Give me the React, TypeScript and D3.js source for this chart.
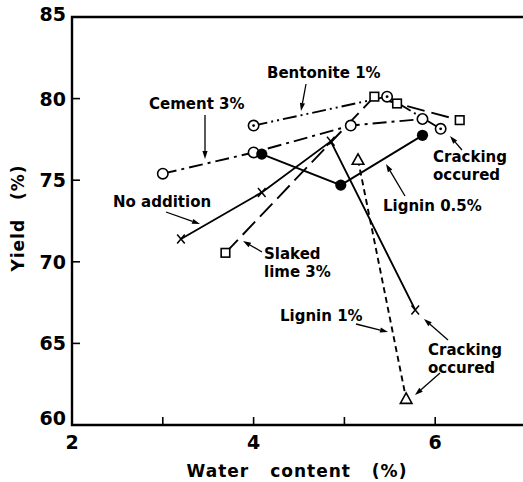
import * as d3 from "d3";

// Water content (%) / Yield (%) for each additive
const cementX = [3.0, 4.0, 5.07, 5.86];
const cementY = [75.4, 76.7, 78.35, 78.75];

const bentoniteX = [4.0, 5.47, 6.06];
const bentoniteY = [78.35, 80.12, 78.15];

const noAdditionX = [3.2, 4.09, 4.85, 5.78];
const noAdditionY = [71.4, 74.25, 77.38, 67.05];

const lignin05X = [4.09, 4.96, 5.86];
const lignin05Y = [76.6, 74.7, 77.75];

const lignin1X = [5.15, 5.68];
const lignin1Y = [76.25, 61.6];

const slakedLimeX = [3.69, 5.33, 5.58, 6.27];
const slakedLimeY = [70.55, 80.12, 79.7, 78.68];

const xTicks = [2, 3, 4, 5, 6];
const xTickLabels = ["2", "", "4", "", "6"];
const yTicks = [60, 65, 70, 75, 80, 85];

const W = 523;
const H = 482;
const FONT = "'DejaVu Sans', sans-serif";

const x = d3.scaleLinear().domain([2, 7]).range([72, 526]);
const y = d3.scaleLinear().domain([60, 85]).range([425, 17]);

const pts = (xs: number[], ys: number[]) => xs.map((v, i) => [v, ys[i]] as [number, number]);
const line = d3
  .line<[number, number]>()
  .x((d) => x(d[0]))
  .y((d) => y(d[1]));

type Shape = "circle" | "dot" | "filled" | "square" | "cross" | "triangle";

const Marker = ({ cx, cy, shape }: { cx: number; cy: number; shape: Shape }) => {
  const sw = 1.6;
  if (shape === "circle")
    return <circle cx={cx} cy={cy} r={5.2} fill="#fff" stroke="#000" strokeWidth={sw} />;
  if (shape === "dot")
    return (
      <g>
        <circle cx={cx} cy={cy} r={5.2} fill="#fff" stroke="#000" strokeWidth={sw} />
        <circle cx={cx} cy={cy} r={1.4} fill="#000" />
      </g>
    );
  if (shape === "filled") return <circle cx={cx} cy={cy} r={5.6} fill="#000" />;
  if (shape === "square")
    return <rect x={cx - 4.3} y={cy - 4.3} width={8.6} height={8.6} fill="#fff" stroke="#000" strokeWidth={sw} />;
  if (shape === "triangle")
    return (
      <path
        d={`M${cx},${cy - 6} L${cx + 5.8},${cy + 4.5} L${cx - 5.8},${cy + 4.5} Z`}
        fill="#fff"
        stroke="#000"
        strokeWidth={sw}
      />
    );
  return (
    <path
      d={`M${cx - 3.8},${cy - 4.5} L${cx + 3.8},${cy + 4.5} M${cx + 3.8},${cy - 4.5} L${cx - 3.8},${cy + 4.5}`}
      stroke="#000"
      strokeWidth={1.5}
      fill="none"
    />
  );
};

const series = [
  { xs: cementX, ys: cementY, shape: "circle" as Shape, dash: "14 5 3 5" },
  { xs: bentoniteX, ys: bentoniteY, shape: "dot" as Shape, dash: "14 4 2 4 2 4" },
  { xs: slakedLimeX, ys: slakedLimeY, shape: "square" as Shape, dash: "18 7" },
  { xs: lignin1X, ys: lignin1Y, shape: "triangle" as Shape, dash: "6 4" },
  { xs: noAdditionX, ys: noAdditionY, shape: "cross" as Shape, dash: "" },
  { xs: lignin05X, ys: lignin05Y, shape: "filled" as Shape, dash: "" },
];

// annotation texts with arrows [x1,y1,x2,y2] in pixels
const notes = [
  { lines: ["Bentonite 1%"], tx: 267, ty: 78, arrow: [306, 84, 301, 111] },
  { lines: ["Cement 3%"], tx: 149, ty: 109, arrow: [205, 115, 205, 159] },
  { lines: ["No addition"], tx: 113, ty: 207, arrow: [166, 212, 200, 224] },
  { lines: ["Slaked", "lime 3%"], tx: 264, ty: 259, arrow: [262, 252, 243, 241] },
  { lines: ["Cracking", "occured"], tx: 433, ty: 162, arrow: [462, 150, 450, 136] },
  { lines: ["Lignin 0.5%"], tx: 383, ty: 211, arrow: [405, 196, 386, 164] },
  { lines: ["Lignin 1%"], tx: 280, ty: 321, arrow: [356, 324, 388, 332] },
  { lines: ["Cracking", "occured"], tx: 428, ty: 355, arrow: [448, 340, 424, 319] },
  { lines: [], tx: 0, ty: 0, arrow: [440, 373, 415, 395] },
];

const Arrow = ({ a }: { a: number[] }) => {
  const [x1, y1, x2, y2] = a;
  const ang = Math.atan2(y2 - y1, x2 - x1);
  const L = 8;
  const w = 2.6;
  const bx = x2 - L * Math.cos(ang);
  const by = y2 - L * Math.sin(ang);
  const px = -Math.sin(ang) * w;
  const py = Math.cos(ang) * w;
  return (
    <g>
      <line x1={x1} y1={y1} x2={bx} y2={by} stroke="#000" strokeWidth={1.3} />
      <path d={`M${x2},${y2} L${bx + px},${by + py} L${bx - px},${by - py} Z`} fill="#000" />
    </g>
  );
};

export default function App() {
  return (
    <svg width={W} height={H} style={{ position: "absolute", left: 0, top: 0 }} fontFamily={FONT}>
      <rect width={W} height={H} fill="#fff" />
      {/* frame */}
      <path d={`M${W},${y(85)} L${x(2)},${y(85)} L${x(2)},${y(60)} L${W},${y(60)}`} fill="none" stroke="#000" strokeWidth={2.4} />
      {yTicks.slice(1, -1).map((t) => (
        <line key={t} x1={x(2)} x2={x(2) + 8} y1={y(t)} y2={y(t)} stroke="#000" strokeWidth={1.6} />
      ))}
      {xTicks.slice(1).map((t) => (
        <line key={t} x1={x(t)} x2={x(t)} y1={y(60)} y2={y(60) - 8} stroke="#000" strokeWidth={1.6} />
      ))}
      {yTicks.map((t) => (
        <text
          key={t}
          x={x(2) - 6}
          y={y(t) + (t === 85 ? -3 : t === 60 ? -7 : 0)}
          textAnchor="end"
          dominantBaseline="central"
          fontSize={19}
          fontWeight="bold"
        >
          {t}
        </text>
      ))}
      {xTicks.map((t, i) => (
        <text key={t} x={x(t)} y={449} textAnchor="middle" fontSize={19} fontWeight="bold">
          {xTickLabels[i]}
        </text>
      ))}
      <text x={297} y={477} textAnchor="middle" fontSize={17} fontWeight="bold" letterSpacing={1} wordSpacing={14}>
        Water content (%)
      </text>
      <text
        transform={`translate(24,218) rotate(-90)`}
        textAnchor="middle"
        fontSize={17}
        fontWeight="bold"
        letterSpacing={1}
        wordSpacing={12}
      >
        Yield (%)
      </text>

      {series.map((s, i) => (
        <path key={i} d={line(pts(s.xs, s.ys)) || ""} fill="none" stroke="#000" strokeWidth={1.9} strokeDasharray={s.dash} />
      ))}
      {series.map((s, i) =>
        pts(s.xs, s.ys).map((p, j) => <Marker key={`${i}-${j}`} cx={x(p[0])} cy={y(p[1])} shape={s.shape} />)
      )}

      {notes.map((n, i) => (
        <g key={i}>
          {n.lines.map((l, k) => (
            <text key={k} x={n.tx} y={n.ty + k * 17.5} fontSize={15} fontWeight="bold">
              {l}
            </text>
          ))}
          <Arrow a={n.arrow} />
        </g>
      ))}
    </svg>
  );
}
